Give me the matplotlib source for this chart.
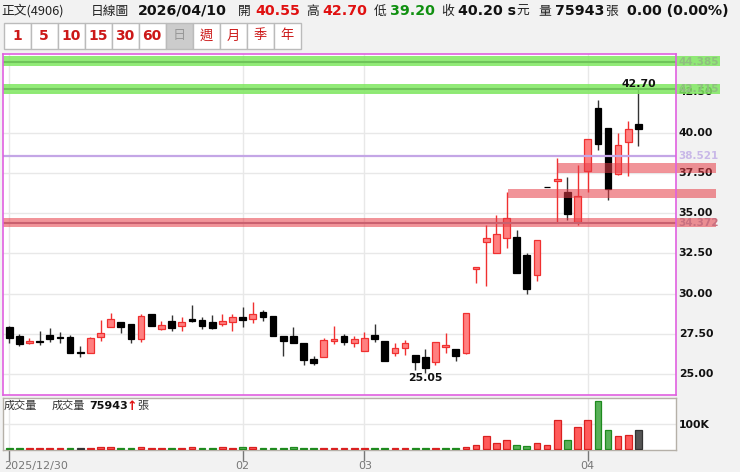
import matplotlib
matplotlib.use("Agg")
import matplotlib.pyplot as plt
from matplotlib.patches import Rectangle

# daily candles
opens = [27.95, 27.39, 26.95, 27.08, 27.43, 27.28, 27.33, 26.35, 26.29, 27.31, 27.93, 28.22, 28.11,
         27.18, 28.74, 27.80, 28.30, 27.99, 28.43, 28.36, 28.22, 28.09, 28.22, 28.53, 28.45, 28.86,
         28.59, 27.37, 27.37, 26.91, 25.92, 26.08, 27.06, 27.37, 26.95, 26.46, 27.43, 27.06, 26.33,
         26.60, 26.16, 26.04, 25.77, 26.66, 26.54, 26.29, 31.56, 33.20, 32.51, 33.47, 33.53, 32.43,
         31.14, 36.65, 36.99, 36.33, 34.42, 37.62, 41.53, 40.31, 37.41, 39.42, 40.55]
highs = [27.99, 27.49, 27.22, 27.68, 27.87, 27.60, 27.41, 26.77, 27.31, 28.36, 28.80, 28.26, 28.11,
         28.74, 28.74, 28.32, 28.70, 28.53, 29.28, 28.57, 28.70, 28.74, 28.74, 29.15, 29.48, 28.99,
         28.59, 27.37, 27.95, 26.91, 26.12, 27.22, 28.01, 27.49, 27.37, 27.62, 28.11, 27.06, 26.95,
         27.12, 26.16, 26.54, 27.02, 27.53, 26.54, 28.78, 31.64, 34.28, 34.90, 36.29, 33.97, 32.51,
         33.32, 36.65, 38.42, 37.24, 38.01, 39.63, 42.01, 40.31, 39.98, 40.71, 42.70]
lows = [26.95, 26.77, 26.85, 26.81, 27.00, 26.91, 26.29, 26.08, 26.29, 27.08, 27.93, 27.53, 26.95,
        27.02, 27.99, 27.74, 27.66, 27.70, 28.22, 27.80, 27.82, 27.99, 27.70, 27.91, 28.20, 28.32,
        27.35, 26.14, 26.93, 25.54, 25.54, 26.08, 26.89, 26.83, 26.66, 26.46, 27.02, 25.83, 26.14,
        26.19, 25.23, 25.05, 25.54, 26.29, 25.81, 26.23, 30.69, 30.50, 32.51, 32.81, 31.29, 29.98,
        30.81, 36.63, 34.42, 34.55, 34.28, 36.29, 38.94, 35.83, 37.37, 37.28, 39.20]
closes = [27.22, 26.85, 27.08, 26.97, 27.16, 27.24, 26.29, 26.29, 27.26, 27.58, 28.41, 27.93, 27.18,
          28.59, 27.99, 28.05, 27.87, 28.22, 28.30, 27.99, 27.87, 28.30, 28.53, 28.36, 28.72, 28.57,
          27.35, 27.04, 26.93, 25.87, 25.71, 27.10, 27.16, 26.97, 27.16, 27.26, 27.18, 25.83, 26.62,
          26.95, 25.73, 25.40, 27.00, 26.79, 26.14, 28.78, 31.64, 33.45, 33.68, 34.71, 31.29, 30.29,
          33.32, 36.63, 37.12, 34.96, 36.04, 39.63, 39.30, 36.50, 39.25, 40.21, 40.20]

# volume in thousands of lots
volumes = [4, 4, 4, 4, 4, 4, 4, 4, 4, 8, 8, 4, 4, 8, 4, 4, 4, 4, 8, 4, 4, 8, 4, 8, 8, 4, 4, 4, 8, 4,
           4, 4, 4, 4, 4, 4, 4, 4, 4, 4, 4, 4, 4, 4, 4, 9.5, 19, 54, 27, 36, 19, 12, 27, 16, 119, 36,
           88, 116, 195, 78, 54, 59, 75.943]
volume_colors = "GGRRRRGKRRRGGRRRGRRGGRRGRGGGGGGRRRRRGGRRGGRGGRRRRRGGRRRGRRGGRRK"

date_ticks = [0, 23, 35, 57]
date_labels = ["2025/12/30", "02", "03", "04"]
price_ticks = [25.0, 27.5, 30.0, 32.5, 35.0, 37.5, 40.0, 42.5]

# (low, high, start candle)
green_zones = [(44.17, 44.79, -0.66), (42.43, 43.05, -0.66)]
red_zones = [(37.51, 38.13, 54.0), (35.96, 36.52, 49.1), (34.12, 34.71, -0.66)]
zone_lines = [(44.385, "#6fc45a"), (42.715, "#6fc45a"), (34.372, "#c9606f")]
zone_labels = [(44.385, "44.385", "#8fbf80"), (42.715, "42.715", "#8fbf80"),
               (38.521, "38.521", "#c9b8e8"), (34.372, "34.372", "#c87080")]

header = [(1, "正文(4906)", "#222222", False), (91, "日線圖", "#222222", False),
          (138, "2026/04/10", "#111111", True), (238, "開", "#222222", False),
          (255, "40.55", "#e01010", True), (306, "高", "#222222", False),
          (322, "42.70", "#e01010", True), (374, "低", "#222222", False),
          (390, "39.20", "#109010", True), (441, "收", "#222222", False),
          (458, "40.20 s", "#111111", True), (516, "元", "#222222", False),
          (538, "量", "#222222", False), (555, "75943", "#111111", True),
          (605, "張", "#222222", False), (627, "0.00 (0.00%)", "#111111", True)]
buttons = ["1", "5", "10", "15", "30", "60", "日", "週", "月", "季", "年"]

cjk = ["Noto Sans CJK TC", "DejaVu Sans"]
plt.rcParams["font.family"] = cjk

W, H = 740, 472
fig = plt.figure(figsize=(W / 100, H / 100), dpi=100, facecolor="#f2f2f2")


def box(left, top, right, bottom):
    return [left / W, 1 - bottom / H, (right - left) / W, (bottom - top) / H]


ax = fig.add_axes(box(2.5, 53.5, 676, 395))
ax.set_xlim(-0.66, 65.7)
ax.set_ylim(23.70, 44.92)
ax.set_xticks(date_ticks)
ax.set_yticks(price_ticks)
ax.grid(color="#e8e8e8", lw=1)
ax.set_axisbelow(True)
ax.tick_params(length=0, labelbottom=False, labelleft=False)
for s in ax.spines.values():
    s.set_color("#e060e0")
    s.set_linewidth(1.2)
    s.set_zorder(6)

for i, (o, h, l, c) in enumerate(zip(opens, highs, lows, closes)):
    up = c > o
    edge = "#f03030" if up else "#000000"
    fill = "#ff8080" if up else "#000000"
    ax.vlines(i, l, h, color="#f03030" if up else "#333333", lw=1, zorder=2)
    ax.add_patch(Rectangle((i - 0.33, min(o, c)), 0.66, abs(c - o), fc=fill, ec=edge, lw=0.9, zorder=3))

# price labels sit under the zones
trans = ax.get_yaxis_transform()
for p in price_ticks:
    ax.text(1.004, p, f"{p:.2f}", transform=trans, va="center", ha="left", fontsize=7.8,
            fontweight="bold", family="DejaVu Sans", color="#111111", zorder=1, clip_on=False)

for lo, hi, start in green_zones:
    ax.add_patch(Rectangle((start, lo), 70.0 - start, hi - lo, fc="#7fe860", alpha=0.85, ec="none",
                           zorder=5, clip_on=False))
for lo, hi, start in red_zones:
    ax.add_patch(Rectangle((start, lo), 69.6 - start, hi - lo, fc="#e63c46", alpha=0.55, ec="none",
                           zorder=5, clip_on=False))
for p, col in zone_lines:
    ax.hlines(p, -0.66, 65.7, color=col, lw=1.5, zorder=5)
ax.axhline(38.521, color="#c4a6e6", lw=1.6, zorder=5)
for p, txt, col in zone_labels:
    ax.text(1.003, p, txt, transform=trans, va="center", ha="left", fontsize=7.5, fontweight="bold",
            family="DejaVu Sans", color=col, zorder=7, clip_on=False)

ax.text(62, 42.70, "42.70", ha="center", va="bottom", fontsize=7.8, fontweight="bold",
        family="DejaVu Sans", color="#111111", zorder=7)
ax.text(41, 25.05, "25.05", ha="center", va="top", fontsize=7.8, fontweight="bold",
        family="DejaVu Sans", color="#111111", zorder=7)

# volume panel
vol = fig.add_axes(box(2.5, 398.3, 676, 450))
vol.set_xlim(-0.66, 65.7)
vol.set_ylim(-3, 204)
vol.set_yticks([100])
vol.set_xticks(date_ticks)
vol.grid(color="#e8e8e8", lw=1)
vol.set_axisbelow(True)
vol.tick_params(axis="y", length=0, labelleft=False)
vol.tick_params(axis="x", length=8, width=1, color="#777777", labelbottom=False)
for s in vol.spines.values():
    s.set_color("#b5b0a8")
    s.set_linewidth(1)
fills = {"R": "#ff5a5a", "G": "#58b058", "K": "#555555"}
edges = {"R": "#d92020", "G": "#1e8a1e", "K": "#333333"}
for i, (v, k) in enumerate(zip(volumes, volume_colors)):
    vol.bar(i, v, width=0.66, color=fills[k], edgecolor=edges[k], lw=0.9, zorder=3)

# everything else is placed in pixels on a top layer
top = fig.add_axes([0, 0, 1, 1], zorder=10)
top.set_xlim(0, W)
top.set_ylim(H, 0)
top.axis("off")

for x, txt, col, bold in header:
    if bold:
        top.text(x, 11, txt, fontsize=10.2, fontweight="bold", family="DejaVu Sans", color=col,
                 va="center", ha="left")
    else:
        top.text(x, 11, txt, fontsize=9.2, color=col, va="center", ha="left")

for n, label in enumerate(buttons):
    left = 4 + 27 * n
    selected = label == "日"
    top.add_patch(Rectangle((left, 23), 26.5, 26, fc="#cccccc" if selected else "#ffffff", ec="#bbbbbb", lw=1))
    col = "#999999" if selected else "#cc1818"
    if label.isdigit():
        top.text(left + 13.2, 36, label, fontsize=10, fontweight="bold", family="DejaVu Sans", color=col,
                 ha="center", va="center")
    else:
        top.text(left + 13.2, 36, label, fontsize=9.5, color=col, ha="center", va="center")

top.text(4, 406, "成交量", fontsize=8, color="#333333", va="center")
top.text(52, 406, "成交量", fontsize=8, color="#333333", va="center")
top.text(89, 406, "75943", fontsize=8, fontweight="bold", family="DejaVu Sans", color="#111111", va="center")
top.text(132, 406, "↑", fontsize=9, fontweight="bold", family="DejaVu Sans", color="#e01010", va="center", ha="center")
top.text(137, 406, "張", fontsize=8, color="#333333", va="center")
top.text(679, 424.5, "100K", fontsize=7.8, fontweight="bold", family="DejaVu Sans", color="#111111", va="center")

top.text(4, 466, date_labels[0], fontsize=8, family="DejaVu Sans", color="#777777", va="center", ha="left")
for px, lab in zip([242, 365, 587], date_labels[1:]):
    top.text(px, 466, lab, fontsize=8, family="DejaVu Sans", color="#777777", va="center", ha="center")

fig.savefig("out.png", dpi=100, facecolor=fig.get_facecolor())
